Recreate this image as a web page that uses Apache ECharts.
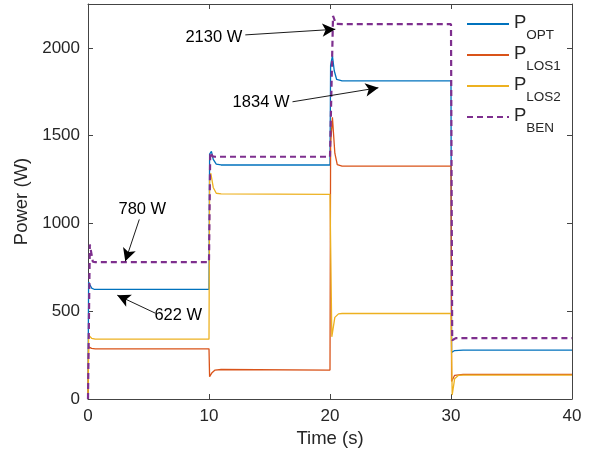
<!DOCTYPE html>
<html>
<head>
<meta charset="utf-8">
<script src="https://cdn.jsdelivr.net/npm/echarts@6/dist/echarts.min.js"></script>
<style>
  html, body { margin: 0; padding: 0; background: #fff; }
  #chart { width: 591px; height: 459px; }
</style>
</head>
<body>
<div id="chart"></div>
<script>
// points: [time s, power W]
const optPts = [[0, 0], [0.05, 667], [0.15, 652], [0.3, 632], [0.5, 625], [10, 625],
  [10.05, 1395], [10.2, 1410], [10.35, 1365], [10.6, 1338], [11, 1333], [20, 1333],
  [20.05, 1900], [20.2, 1955], [20.35, 1870], [20.55, 1820], [21, 1812], [30, 1812],
  [30.05, 265], [30.3, 276], [31, 278], [40, 278]];
const los1Pts = [[0, 0], [0.05, 297], [0.3, 288], [0.6, 286], [10, 286],
  [10.05, 127], [10.25, 150], [10.5, 165], [11, 168], [20, 165],
  [20.05, 1450], [20.2, 1604], [20.4, 1400], [20.6, 1335], [21, 1326], [30, 1326],
  [30.05, 100], [30.3, 135], [31, 140], [40, 140]];
const los2Pts = [[0, 0], [0.05, 364], [0.3, 346], [0.6, 341], [10, 341],
  [10.05, 1250], [10.15, 1286], [10.35, 1205], [10.6, 1172], [11, 1168], [20, 1166],
  [20.15, 354], [20.4, 465], [20.7, 485], [21, 487], [30, 487],
  [30.1, 23], [30.3, 115], [30.6, 134], [31, 136], [40, 136]];
const benPts = [[0, 0], [0.15, 880], [0.4, 782], [0.6, 780], [10, 780],
  [10.1, 1405], [10.3, 1382], [10.5, 1380], [20, 1380],
  [20.25, 2182], [20.5, 2137], [21, 2135], [30, 2135],
  [30.1, 335], [30.4, 347], [40, 347]];

const legendNames = ['{p|P}{s|OPT}', '{p|P}{s|LOS1}', '{p|P}{s|LOS2}', '{p|P}{s|BEN}'];
const colors = ['#0072BD', '#D95319', '#EDB120', '#7E2F8E'];

// annotation arrows: [tail, tip] in data coords, and label centres
const arrows = [
  [[13.0, 2074], [20.44, 2106]],
  [[16.9, 1693], [24.0, 1773]],
  [[4.24, 1023], [3.08, 784]],
  [[5.56, 489], [2.42, 591]]
];
const labels = [
  ['2130 W', [10.4, 2057]],
  ['1834 W', [14.3, 1690]],
  ['780 W', [4.49, 1080]],
  ['622 W', [7.46, 477]]
];

const font = 'Liberation Sans, Arial, Helvetica, sans-serif';
const ink = '#262626';

const chart = echarts.init(document.getElementById('chart'));

function lineSeries(i, pts, extra) {
  return Object.assign({
    name: legendNames[i],
    type: 'line',
    data: pts,
    symbol: 'none',
    color: colors[i],
    lineStyle: { width: 1.3, color: colors[i] },
    animation: false
  }, extra || {});
}

const tickAxisX = {
  type: 'value', min: 0, max: 40, interval: 10,
  axisLine: { show: true, onZero: false, lineStyle: { color: '#444', width: 1 } },
  axisTick: { show: true, inside: true, length: 5, lineStyle: { color: '#444' } },
  splitLine: { show: false }
};
const tickAxisY = {
  type: 'value', min: 0, max: 2250, interval: 500,
  axisLine: { show: true, onZero: false, lineStyle: { color: '#444', width: 1 } },
  axisTick: { show: true, inside: true, length: 5, lineStyle: { color: '#444' } },
  splitLine: { show: false }
};

chart.setOption({
  animation: false,
  textStyle: { fontFamily: font },
  grid: { left: 88, right: 19, top: 4, bottom: 60 },
  legend: {
    orient: 'vertical',
    left: 466,
    top: 13,
    padding: 0,
    itemGap: 2,
    itemWidth: 42,
    itemHeight: 14,
    data: legendNames,
    itemStyle: { opacity: 0, borderWidth: 0 },
    textStyle: {
      color: ink,
      rich: {
        p: { fontSize: 18.5, lineHeight: 22, verticalAlign: 'top', color: ink, fontFamily: font },
        s: { fontSize: 13.5, lineHeight: 14, padding: [15, 0, 0, 0], verticalAlign: 'top', color: ink, fontFamily: font }
      }
    }
  },
  xAxis: [
    Object.assign({}, tickAxisX, {
      position: 'bottom',
      name: 'Time (s)', nameLocation: 'middle', nameGap: 30,
      nameTextStyle: { fontSize: 18.5, color: ink, fontFamily: font },
      axisLabel: { fontSize: 17, color: ink, margin: 9, fontFamily: font }
    }),
    Object.assign({}, tickAxisX, { position: 'top', axisLabel: { show: false } })
  ],
  yAxis: [
    Object.assign({}, tickAxisY, {
      position: 'left',
      name: 'Power (W)', nameLocation: 'middle', nameGap: 48,
      nameTextStyle: { fontSize: 18.5, color: ink, fontFamily: font },
      axisLabel: {
        fontSize: 17, color: ink, margin: 8, fontFamily: font,
        formatter: v => (v > 2000 ? '' : String(v))
      }
    }),
    Object.assign({}, tickAxisY, { position: 'right', axisLabel: { show: false } })
  ],
  series: [
    lineSeries(0, optPts),
    lineSeries(1, los1Pts),
    lineSeries(2, los2Pts),
    lineSeries(3, benPts, {
      lineStyle: { width: 2.2, color: colors[3], type: [6, 4] },
      markLine: {
        silent: true,
        symbol: ['none', 'arrow'],
        symbolSize: [10, 13],
        label: { show: false },
        lineStyle: { color: '#000', width: 0.9, type: 'solid' },
        emphasis: { disabled: true },
        data: arrows.map(a => [{ coord: a[0] }, { coord: a[1] }])
      },
      markPoint: {
        silent: true,
        symbol: 'circle',
        symbolSize: 1,
        itemStyle: { color: 'rgba(0,0,0,0)' },
        label: {
          show: true, position: 'inside', color: '#000',
          fontSize: 16.5, fontFamily: font,
          formatter: p => p.name
        },
        data: labels.map(l => ({ name: l[0], coord: l[1] }))
      }
    })
  ]
});
</script>
</body>
</html>
